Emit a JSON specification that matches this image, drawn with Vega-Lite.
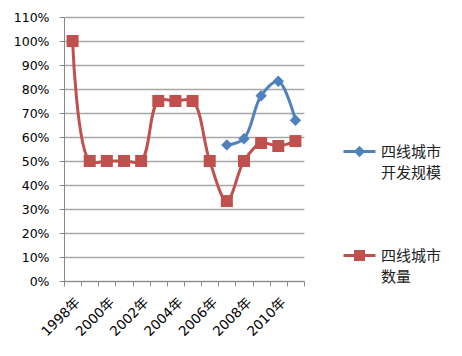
{
  "$schema": "https://vega.github.io/schema/vega-lite/v6.json",
  "width": 240,
  "height": 264,
  "autosize": "none",
  "padding": {"left": 64, "top": 17, "right": 158, "bottom": 75},
  "background": "white",
  "config": {"view": {"stroke": null}, "font": "DejaVu Sans"},
  "data": {
    "values": [
      {"year": 1998, "series": "四线城市数量", "value": 1.0},
      {"year": 1999, "series": "四线城市数量", "value": 0.5},
      {"year": 2000, "series": "四线城市数量", "value": 0.5},
      {"year": 2001, "series": "四线城市数量", "value": 0.5},
      {"year": 2002, "series": "四线城市数量", "value": 0.5},
      {"year": 2003, "series": "四线城市数量", "value": 0.75},
      {"year": 2004, "series": "四线城市数量", "value": 0.75},
      {"year": 2005, "series": "四线城市数量", "value": 0.75},
      {"year": 2006, "series": "四线城市数量", "value": 0.5},
      {"year": 2007, "series": "四线城市数量", "value": 0.333},
      {"year": 2008, "series": "四线城市数量", "value": 0.5},
      {"year": 2009, "series": "四线城市数量", "value": 0.575},
      {"year": 2010, "series": "四线城市数量", "value": 0.5625},
      {"year": 2011, "series": "四线城市数量", "value": 0.583},
      {"year": 2007, "series": "四线城市开发规模", "value": 0.567},
      {"year": 2008, "series": "四线城市开发规模", "value": 0.593},
      {"year": 2009, "series": "四线城市开发规模", "value": 0.772},
      {"year": 2010, "series": "四线城市开发规模", "value": 0.832},
      {"year": 2011, "series": "四线城市开发规模", "value": 0.67}
    ]
  },
  "encoding": {
    "x": {
      "field": "year",
      "type": "ordinal",
      "bandPosition": 0.5,
      "scale": {"type": "band", "paddingInner": 0, "paddingOuter": 0},
      "axis": {
        "title": null,
        "tickBand": "extent",
        "labelExpr": "datum.value % 2 == 0 ? datum.value + '年' : ''",
        "labelAngle": -45,
        "labelFont": "DejaVu Sans, Noto Sans CJK SC",
        "labelFontSize": 13.5,
        "labelColor": "#000",
        "labelPadding": 9,
        "labelDx": -4,
        "domainColor": "#888",
        "tickColor": "#888",
        "tickSize": 5,
        "grid": false
      }
    },
    "y": {
      "field": "value",
      "type": "quantitative",
      "scale": {"domain": [0, 1.1], "nice": false},
      "axis": {
        "title": null,
        "format": ".0%",
        "values": [0, 0.1, 0.2, 0.3, 0.4, 0.5, 0.6, 0.7, 0.8, 0.9, 1.0, 1.1],
        "labelFontSize": 12.5,
        "labelColor": "#000",
        "labelPadding": 10,
        "domainColor": "#888",
        "tickColor": "#888",
        "tickSize": 5,
        "gridColor": "#a6a6a6",
        "gridWidth": 1.5
      }
    },
    "color": {
      "field": "series",
      "type": "nominal",
      "scale": {"domain": ["四线城市开发规模", "四线城市数量"], "range": ["#4F81BD", "#C0504D"]},
      "legend": {
        "orient": "none",
        "legendX": 278,
        "legendY": 117,
        "title": null,
        "labelFont": "Noto Sans CJK SC",
        "labelFontSize": 15,
        "labelColor": "#222",
        "labelLimit": 200,
        "labelExpr": "datum.label == '四线城市开发规模' ? ['四线城市', '开发规模'] : ['四线城市', '数量']",
        "labelBaseline": "middle",
        "labelOffset": 4,
        "symbolSize": 1024,
        "symbolStrokeWidth": 3,
        "rowPadding": 57,
        "encode": {
          "labels": {"update": {"dy": {"value": 0}, "lineHeight": {"value": 21.5}}},
          "symbols": {
            "update": {
              "shape": {"signal": "datum.value == '四线城市开发规模' ? 'M-1,0L1,0M0,-0.22L0.22,0L0,0.22L-0.22,0Z' : 'M-1,0L1,0M-0.25,-0.25L0.25,-0.25L0.25,0.25L-0.25,0.25Z'"},
              "size": {"value": 1024},
              "fill": {"signal": "datum.value == '四线城市开发规模' ? '#4F81BD' : '#C0504D'"},
              "stroke": {"signal": "datum.value == '四线城市开发规模' ? '#4F81BD' : '#C0504D'"},
              "strokeWidth": {"value": 3},
              "opacity": {"value": 1},
              "fillOpacity": {"value": 1}
            }
          }
        }
      }
    }
  },
  "layer": [
    {"mark": {"type": "line", "interpolate": "catmull-rom", "strokeWidth": 3}},
    {
      "transform": [{"filter": "datum.series == '四线城市开发规模'"}],
      "mark": {"type": "point", "filled": true, "opacity": 1, "shape": "diamond", "size": 130}
    },
    {
      "transform": [{"filter": "datum.series == '四线城市数量'"}],
      "mark": {"type": "point", "filled": true, "opacity": 1, "shape": "square", "size": 144}
    }
  ]
}
